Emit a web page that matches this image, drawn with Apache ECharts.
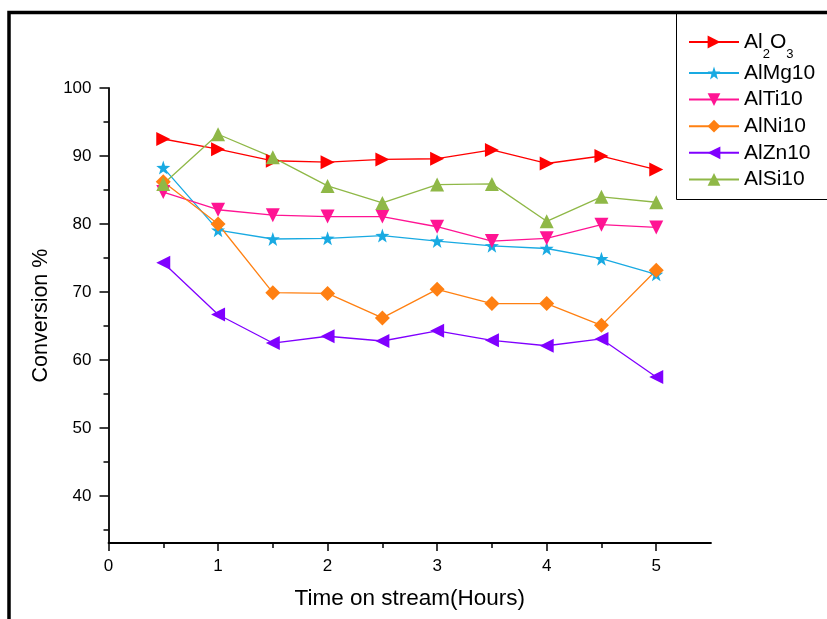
<!DOCTYPE html>
<html><head><meta charset="utf-8">
<script src="https://cdn.jsdelivr.net/npm/echarts@6/dist/echarts.min.js"></script>
<style>html,body{margin:0;padding:0;background:#fff}#c{width:827px;height:619px}</style>
</head><body><div id="c"></div>
<script>
const hours = [0.5, 1, 1.5, 2, 2.5, 3, 3.5, 4, 4.5, 5];
const al2o3  = [92.5, 91.0, 89.3, 89.1, 89.5, 89.6, 90.9, 88.9, 90.0, 88.0];
const almg10 = [88.3, 79.1, 77.8, 77.9, 78.3, 77.5, 76.8, 76.4, 74.9, 72.6];
const alti10 = [84.7, 82.1, 81.3, 81.1, 81.1, 79.6, 77.5, 77.9, 79.9, 79.5];
const alni10 = [86.2, 80.0, 69.9, 69.8, 66.2, 70.4, 68.3, 68.3, 65.1, 73.2];
const alzn10 = [74.3, 66.7, 62.5, 63.5, 62.8, 64.3, 62.9, 62.1, 63.1, 57.5];
const alsi10 = [85.9, 93.2, 89.8, 85.6, 83.1, 85.8, 85.9, 80.4, 84.0, 83.2];
const xMajorTicks = [0, 1, 2, 3, 4, 5];
const xMinorTicks = [0.5, 1.5, 2.5, 3.5, 4.5];
const yMajorTicks = [40, 50, 60, 70, 80, 90, 100];
const yMinorTicks = [35, 45, 55, 65, 75, 85, 95];

const FONT = 'Liberation Sans, Arial, sans-serif';
const star = 'path://M100,0 L123.5,67.6 L195.1,69.1 L138,112.4 L158.8,180.9 L100,140 L41.2,180.9 L62,112.4 L4.9,69.1 L76.5,67.6 Z';
const pair = a => a.map((v, i) => [hours[i], v]);

function mk(name, data, color, symbol, rot, size) {
  return {
    name, type: 'line', data: pair(data), symbol, symbolRotate: rot, symbolSize: size,
    lineStyle: { color, width: 1.3 }, itemStyle: { color }, animation: false,
    xAxisIndex: 0, yAxisIndex: 0
  };
}

const chart = echarts.init(document.getElementById('c'));
chart.setOption({
  animation: false,
  backgroundColor: '#fff',
  grid: { left: 108.5, right: 116, top: 88, bottom: 76 },
  xAxis: [{
    type: 'value', min: 0, max: 5.5,
    name: 'Time on stream(Hours)', nameLocation: 'middle', nameGap: 44,
    nameTextStyle: { fontSize: 22.5, color: '#000', fontFamily: FONT },
    axisLine: { show: true, onZero: false, lineStyle: { color: '#000', width: 1.8 } },
    axisTick: { show: true, customValues: xMajorTicks, length: 8, lineStyle: { color: '#000', width: 1.5 } },
    axisLabel: { customValues: xMajorTicks, margin: 15, fontSize: 17, color: '#000', fontFamily: FONT },
    splitLine: { show: false }
  }, {
    type: 'value', min: 0, max: 5.5, position: 'bottom',
    axisLine: { show: false },
    axisTick: { show: true, customValues: xMinorTicks, length: 5, lineStyle: { color: '#000', width: 1.5 } },
    axisLabel: { show: false }, splitLine: { show: false }
  }],
  yAxis: [{
    type: 'value', min: 33.1, max: 100,
    name: 'Conversion %', nameLocation: 'middle', nameGap: 56,
    nameTextStyle: { fontSize: 21.5, color: '#000', fontFamily: FONT },
    axisLine: { show: true, onZero: false, lineStyle: { color: '#000', width: 1.8 } },
    axisTick: { show: true, customValues: yMajorTicks, length: 9, lineStyle: { color: '#000', width: 1.5 } },
    axisLabel: { customValues: yMajorTicks, margin: 17, fontSize: 17, color: '#000', fontFamily: FONT },
    splitLine: { show: false }
  }, {
    type: 'value', min: 33.1, max: 100, position: 'left',
    axisLine: { show: false },
    axisTick: { show: true, customValues: yMinorTicks, length: 5, lineStyle: { color: '#000', width: 1.5 } },
    axisLabel: { show: false }, splitLine: { show: false }
  }],
  legend: [{
    data: ['Al2O3'], orient: 'vertical', left: 688, top: 31.5, padding: 0,
    itemWidth: 50, itemHeight: 16, itemGap: 7,
    formatter: () => '{a|Al}{b|2}{a|O}{b|3}',
    textStyle: {
      color: '#000', fontFamily: FONT, fontSize: 21,
      rich: { a: { fontSize: 21, fontFamily: FONT, color: '#000' },
              b: { fontSize: 13, fontFamily: FONT, color: '#000', padding: [25, 0, 0, 0] } }
    }
  }, {
    data: ['AlMg10', 'AlTi10', 'AlNi10', 'AlZn10', 'AlSi10'], orient: 'vertical', left: 688, top: 62.5, padding: 0,
    itemWidth: 50, itemHeight: 16, itemGap: 5.6,
    textStyle: { color: '#000', fontFamily: FONT, fontSize: 21 }
  }],
  graphic: [
    { type: 'rect', shape: { x: 9, y: 12.5, width: 900, height: 700 }, style: { fill: 'none', stroke: '#000', lineWidth: 3.5 }, silent: true },
    { type: 'rect', shape: { x: 676.5, y: 12.5, width: 200, height: 187 }, style: { fill: 'none', stroke: '#000', lineWidth: 1 }, silent: true }
  ],
  series: [
    mk('Al2O3', al2o3, '#FF0000', 'triangle', -90, 14),
    mk('AlMg10', almg10, '#19AAE2', star, 0, 14),
    mk('AlTi10', alti10, '#FF1493', 'triangle', 180, 14),
    mk('AlNi10', alni10, '#FF8012', 'diamond', 0, 15),
    mk('AlZn10', alzn10, '#8000FF', 'triangle', 90, 14),
    mk('AlSi10', alsi10, '#8FB847', 'triangle', 0, 14)
  ]
});
</script></body></html>
